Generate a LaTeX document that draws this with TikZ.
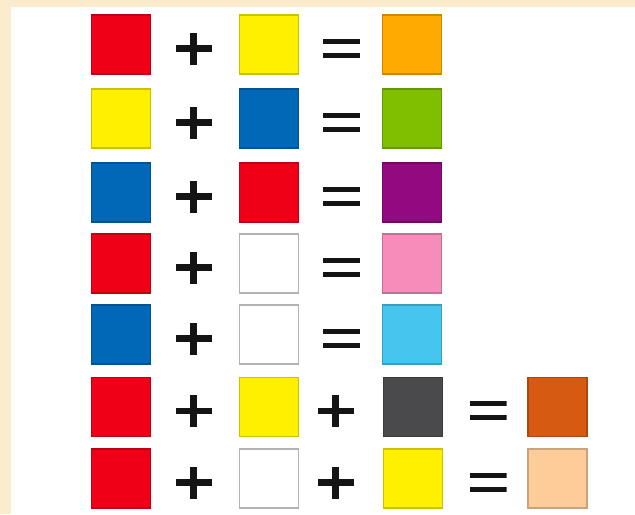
\documentclass[tikz,border=0pt]{standalone}
\usepackage{tikz}
\usetikzlibrary{positioning}
\definecolor{mixcream}{RGB}{250,236,205}
\definecolor{mixred}{RGB}{240,0,22}
\definecolor{mixyellow}{RGB}{255,240,0}
\definecolor{mixblue}{RGB}{0,104,183}
\definecolor{mixorange}{RGB}{255,170,0}
\definecolor{mixgreen}{RGB}{128,190,0}
\definecolor{mixpurple}{RGB}{146,10,128}
\definecolor{mixpink}{RGB}{245,140,185}
\definecolor{mixcyan}{RGB}{70,198,238}
\definecolor{mixgray}{RGB}{74,74,76}
\definecolor{mixrust}{RGB}{214,90,18}
\definecolor{mixpeach}{RGB}{253,204,153}
\definecolor{symblack}{RGB}{20,20,20}

\begin{document}
\begin{tikzpicture}[x=0.01cm, y=-0.01cm, node distance=0.25cm,
        sq/.style={draw=#1!80!black, fill=#1, line width=0.4pt, minimum size=0.59cm, inner sep=0pt},
        blank/.style={draw=black!30, fill=white, line width=0.4pt, minimum size=0.59cm, inner sep=0pt},
        plussign/.style={minimum width=0.36cm, minimum height=0.40cm, inner sep=0pt,
            path picture={
                \fill[symblack] ([shift={(-0.18cm,-0.0725cm)}]path picture bounding box.center) rectangle ([shift={(0.18cm,-0.0075cm)}]path picture bounding box.center);
                \fill[symblack] ([shift={(-0.035cm,-0.20cm)}]path picture bounding box.center) rectangle ([shift={(0.035cm,0.12cm)}]path picture bounding box.center);}},
        eqsign/.style={minimum width=0.37cm, minimum height=0.26cm, inner sep=0pt,
            path picture={
                \fill[symblack] ([shift={(-0.185cm,0.01cm)}]path picture bounding box.center) rectangle ([shift={(0.185cm,0.06cm)}]path picture bounding box.center);
                \fill[symblack] ([shift={(-0.185cm,-0.13cm)}]path picture bounding box.center) rectangle ([shift={(0.185cm,-0.08cm)}]path picture bounding box.center);}}]
        % background and white sheet
        \fill[mixcream] (0,0) rectangle (635,514);
        \fill[white] (11,7) rectangle (635,514);
        % red + yellow = orange
        \node[sq=mixred] (a1) at (121,44.5) {};
        \node[plussign, right=0.24cm of a1] (plus1) {};
        \node[sq=mixyellow, right=0.26cm of plus1] (b1) {};
        \node[eqsign, right=0.23cm of b1] (eq1) {};
        \node[sq=mixorange, right=0.21cm of eq1] (c1) {};
        % yellow + blue = green
        \node[sq=mixyellow] (a2) at (121,118.5) {};
        \node[plussign, right=0.24cm of a2] (plus2) {};
        \node[sq=mixblue, right=0.26cm of plus2] (b2) {};
        \node[eqsign, right=0.23cm of b2] (eq2) {};
        \node[sq=mixgreen, right=0.21cm of eq2] (c2) {};
        % blue + red = purple
        \node[sq=mixblue] (a3) at (121,192.5) {};
        \node[plussign, right=0.24cm of a3] (plus3) {};
        \node[sq=mixred, right=0.26cm of plus3] (b3) {};
        \node[eqsign, right=0.23cm of b3] (eq3) {};
        \node[sq=mixpurple, right=0.21cm of eq3] (c3) {};
        % red + white = pink
        \node[sq=mixred] (a4) at (121,263.5) {};
        \node[plussign, right=0.24cm of a4] (plus4) {};
        \node[blank, right=0.26cm of plus4] (b4) {};
        \node[eqsign, right=0.23cm of b4] (eq4) {};
        \node[sq=mixpink, right=0.21cm of eq4] (c4) {};
        % blue + white = light blue
        \node[sq=mixblue] (a5) at (121,334.5) {};
        \node[plussign, right=0.24cm of a5] (plus5) {};
        \node[blank, right=0.26cm of plus5] (b5) {};
        \node[eqsign, right=0.23cm of b5] (eq5) {};
        \node[sq=mixcyan, right=0.21cm of eq5] (c5) {};
        % red + yellow + black = brown
        \node[sq=mixred] (a6) at (121,407) {};
        \node[plussign, right=0.24cm of a6] (plus6) {};
        \node[sq=mixyellow, right=0.26cm of plus6] (b6) {};
        \node[plussign, right=0.18cm of b6] (plusb6) {};
        \node[sq=mixgray, right=0.28cm of plusb6] (c6) {};
        \node[eqsign, right=0.26cm of c6] (eq6) {};
        \node[sq=mixrust, right=0.2cm of eq6] (d6) {};
        % red + white + yellow = peach
        \node[sq=mixred] (a7) at (121,478.5) {};
        \node[plussign, right=0.24cm of a7] (plus7) {};
        \node[blank, right=0.26cm of plus7] (b7) {};
        \node[plussign, right=0.18cm of b7] (plusb7) {};
        \node[sq=mixyellow, right=0.28cm of plusb7] (c7) {};
        \node[eqsign, right=0.26cm of c7] (eq7) {};
        \node[sq=mixpeach, right=0.2cm of eq7] (d7) {};
    \end{tikzpicture}
\end{document}
